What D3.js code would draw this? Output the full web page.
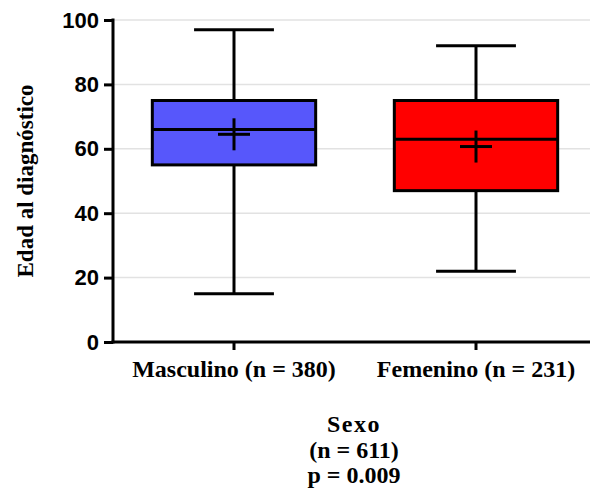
<!DOCTYPE html>
<html><head><meta charset="utf-8">
<script src="https://cdn.jsdelivr.net/npm/d3@7"></script>
<style>body{margin:0;background:#fff}</style>
</head><body>
<svg id="c" width="590" height="495"></svg>
<script>
const categories = ["Masculino (n = 380)", "Femenino (n = 231)"];
const whiskerLow = [15, 22];
const q1 = [55, 47];
const median = [66, 63];
const q3 = [75, 75];
const whiskerHigh = [97, 92];
const mean = [64.5, 60.7];
const colors = ["#5757fb", "#ff0000"];
const yTicks = [0, 20, 40, 60, 80, 100];
const yTitle = "Edad al diagnóstico";
const xTitleLines = ["Sexo", "(n = 611)", "p = 0.009"];

const svg = d3.select("#c");
const x0 = 113, xEnd = 590, yTop = 20, yBot = 342;
const y = d3.scaleLinear().domain([0, 100]).range([yBot, yTop]);
const x = d3.scaleBand().domain(categories).range([x0, 597]).padding(0);
const step = x.bandwidth();

// grid
svg.append("g").selectAll("line").data(yTicks.filter(d => d > 0)).join("line")
  .attr("x1", x0).attr("x2", xEnd).attr("y1", d => y(d)).attr("y2", d => y(d))
  .attr("stroke", "#e2e2e2").attr("stroke-width", 1.5);

const data = categories.map((c, i) => ({c, lo: whiskerLow[i], q1: q1[i], med: median[i], q3: q3[i], hi: whiskerHigh[i], mean: mean[i], color: colors[i]}));

const g = svg.append("g").selectAll("g").data(data).join("g");
const cx = d => x(d.c) + step / 2;
const boxW = step * 0.675, capW = step * 0.33, meanW = 16;
g.append("line").attr("x1", cx).attr("x2", cx).attr("y1", d => y(d.hi)).attr("y2", d => y(d.q3)).attr("stroke", "#000").attr("stroke-width", 3);
g.append("line").attr("x1", cx).attr("x2", cx).attr("y1", d => y(d.q1)).attr("y2", d => y(d.lo)).attr("stroke", "#000").attr("stroke-width", 3);
g.append("line").attr("x1", d => cx(d) - capW / 2).attr("x2", d => cx(d) + capW / 2).attr("y1", d => y(d.hi)).attr("y2", d => y(d.hi)).attr("stroke", "#000").attr("stroke-width", 3);
g.append("line").attr("x1", d => cx(d) - capW / 2).attr("x2", d => cx(d) + capW / 2).attr("y1", d => y(d.lo)).attr("y2", d => y(d.lo)).attr("stroke", "#000").attr("stroke-width", 3);
g.append("rect").attr("x", d => cx(d) - boxW / 2).attr("width", boxW)
  .attr("y", d => y(d.q3)).attr("height", d => y(d.q1) - y(d.q3))
  .attr("fill", d => d.color).attr("stroke", "#000").attr("stroke-width", 3);
g.append("line").attr("x1", d => cx(d) - boxW / 2).attr("x2", d => cx(d) + boxW / 2).attr("y1", d => y(d.med)).attr("y2", d => y(d.med)).attr("stroke", "#000").attr("stroke-width", 3);
g.append("line").attr("x1", d => cx(d) - meanW).attr("x2", d => cx(d) + meanW).attr("y1", d => y(d.mean)).attr("y2", d => y(d.mean)).attr("stroke", "#000").attr("stroke-width", 3);
g.append("line").attr("x1", cx).attr("x2", cx).attr("y1", d => y(d.mean) - 16).attr("y2", d => y(d.mean) + 16).attr("stroke", "#000").attr("stroke-width", 3);

// y axis
const yAxis = svg.append("g").attr("transform", `translate(${x0},0)`)
  .call(d3.axisLeft(y).tickValues(yTicks).tickSize(9).tickSizeOuter(0).tickPadding(5));
yAxis.select(".domain").attr("stroke-width", 3).attr("d", `M0,${yTop - 1.5}V${yBot + 1.5}`);
yAxis.selectAll(".tick line").attr("stroke-width", 3);
yAxis.selectAll(".tick text").attr("font-family", "Liberation Sans, Arial").attr("font-weight", "bold").attr("font-size", 22).attr("fill", "#000");

// x axis
const xAxis = svg.append("g").attr("transform", `translate(0,${yBot})`)
  .call(d3.axisBottom(x).tickSize(8).tickSizeOuter(0).tickPadding(10));
xAxis.select(".domain").attr("stroke-width", 3).attr("d", `M${x0 - 1.5},0H${xEnd}`);
xAxis.selectAll(".tick line").attr("stroke-width", 3);
xAxis.selectAll(".tick text").attr("font-family", "Liberation Serif, Times New Roman").attr("font-weight", "bold").attr("font-size", 24).attr("fill", "#000");

// y title
svg.append("text").attr("transform", "translate(33,181) rotate(-90)").attr("text-anchor", "middle")
  .attr("font-family", "Liberation Serif, Times New Roman").attr("font-weight", "bold").attr("font-size", 23).text(yTitle);

// x title
const tb = [432, 458, 483];
svg.append("g").selectAll("text").data(xTitleLines).join("text")
  .attr("x", 354).attr("y", (d, i) => tb[i]).attr("text-anchor", "middle")
  .attr("letter-spacing", (d, i) => i === 0 ? 1.5 : 0)
  .attr("font-family", "Liberation Serif, Times New Roman").attr("font-weight", "bold").attr("font-size", 24).text(d => d);
</script>
</body></html>
